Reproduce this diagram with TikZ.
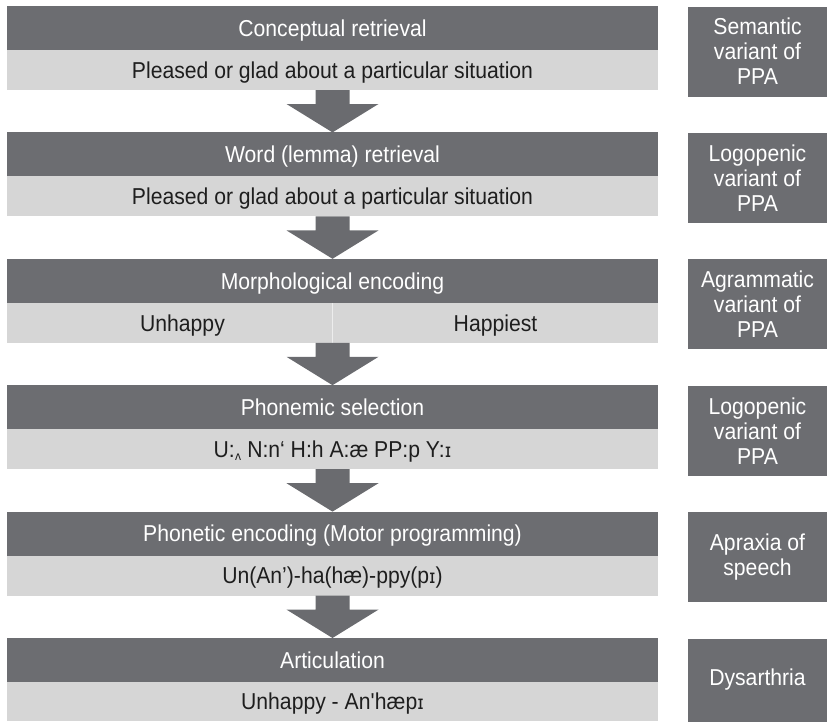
\documentclass[tikz,border=0pt]{standalone}
\usepackage{fontspec}
\setmainfont{Liberation Sans}[FakeStretch=0.92]
\newfontfamily\ipafont{DejaVu Sans}[FakeStretch=0.92]
\usetikzlibrary{calc}
\definecolor{darkband}{HTML}{6C6D71}
\definecolor{lightband}{HTML}{D6D6D6}
\definecolor{arrowgray}{HTML}{6A6B6F}
\definecolor{darktext}{HTML}{1E1E1E}
\newcommand{\smallI}{{\ipafont\fontsize{19}{19}\selectfont ɪ}}
\begin{document}
\begin{tikzpicture}[x=1pt,y=-1pt,
  every node/.style={inner sep=0pt, outer sep=0pt, font=\fontsize{23}{25}\selectfont},
  capcenter/.style={text height=16.5pt, text depth=0pt},
  stagehead/.style={capcenter, fill=darkband, text=white, minimum width=651pt, minimum height=44pt, anchor=north west},
  stagebody/.style={capcenter, fill=lightband, text=darktext, minimum width=651pt, minimum height=40pt, anchor=north west},
  disorder/.style={fill=darkband, text=white, minimum width=139pt, minimum height=90pt, anchor=north west, align=center},
  plaintext/.style={capcenter, text=darktext},
  flowarrow/.style={fill=arrowgray}]
\useasboundingbox (0,0) rectangle (827,721);
% stages
\node[stagehead] (h1) at (7,6) {Conceptual retrieval};
\node[stagebody] (b1) at (h1.south west) {Pleased or glad about a particular situation};
\node[stagehead] (h2) at (7,132.4) {Word (lemma) retrieval};
\node[stagebody] (b2) at (h2.south west) {Pleased or glad about a particular situation};
\node[stagehead] (h3) at (7,258.8) {Morphological encoding};
\node[stagebody] (b3) at (h3.south west) {};
\node[stagehead] (h4) at (7,385.2) {Phonemic selection};
\node[stagebody] (b4) at (h4.south west) {U:\raisebox{-3pt}{\ipafont\fontsize{12}{12}\selectfont ʌ} N:n‘ H:h A:æ PP:p Y:\smallI};
\node[stagehead] (h5) at (7,511.6) {Phonetic encoding (Motor programming)};
\node[stagebody] (b5) at (h5.south west) {Un(An’)-ha(hæ)-ppy(p\smallI)};
\node[stagehead] (h6) at (7,638) {Articulation};
\node[stagebody, minimum height=39pt] (b6) at (h6.south west) {Unhappy - An\textquotesingle hæp\smallI};
% split body of stage 3
\draw[white!55!lightband, line width=0.8pt] (b3.north) -- (b3.south);
\node[plaintext] (u3) at ($(b3.center)+(-150,0)$) {Unhappy};
\node[plaintext] (p3) at ($(b3.center)+(163,0)$) {Happiest};
% disorders
\node[disorder] (d1) at (688,6.5) {Semantic\\variant of\\PPA};
\node[disorder] (d2) at (688,132.9) {Logopenic\\variant of\\PPA};
\node[disorder] (d3) at (688,259.3) {Agrammatic\\variant of\\PPA};
\node[disorder] (d4) at (688,385.7) {Logopenic\\variant of\\PPA};
\node[disorder] (d5) at (688,512.1) {Apraxia of\\speech};
\node[disorder, minimum height=83pt] (d6) at (688,638.5) {Dysarthria};
% arrows
\foreach \a/\b in {b1/h2, b2/h3, b3/h4, b4/h5, b5/h6}{
  \fill[flowarrow] ($(\a.south)+(-17,0)$) -- ($(\a.south)+(17,0)$) -- ($(\a.south)+(17,14)$)
    -- ($(\a.south)+(46,14)$) -- (\b.north) -- ($(\a.south)+(-46,14)$) -- ($(\a.south)+(-17,14)$) -- cycle;
}
\end{tikzpicture}
\end{document}
